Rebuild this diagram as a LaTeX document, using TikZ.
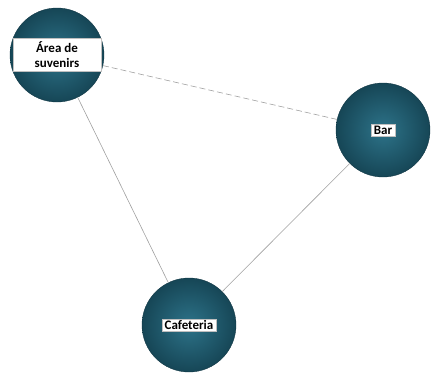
\documentclass[tikz,border=0pt]{standalone}
\usepackage{fontspec}
\setmainfont{Carlito}
\usetikzlibrary{positioning}

\definecolor{tealdark}{HTML}{164656}
\definecolor{teallight}{HTML}{2D7389}

\begin{document}
\begin{tikzpicture}[
        x = 1pt, y = -1pt, on grid,
        spot/.style = {circle, minimum size = 94pt, inner sep = 0pt,
            shading = radial, inner color = teallight, outer color = tealdark,
            draw = tealdark!80!black, thin},
        tag/.style = {fill = white, draw = gray!50, very thin, inner xsep = 3pt, inner ysep = 1.5pt,
            font = \fontsize{13}{15}\selectfont\bfseries, align = center, text = black},
        link/.style = {draw = gray!75, line width = 0.6pt}
    ]
      \useasboundingbox (0,0) rectangle (434,373);
      \node[spot, label = {[tag, minimum width = 88pt, inner ysep = 3.5pt]center:{Área de\\suvenirs}}] (area) at (57,55) {};
        \node[spot, label = {[tag]center:Bar}] (bar) [below right = 75pt and 326pt of area] {};
      \node[spot, label = {[tag]center:Cafeteria}] (cafe) [below right = 270pt and 132pt of area] {};

      \path 
        (area)  edge [link, dash pattern = on 6pt off 3pt] (bar)
        (area)  edge [link] (cafe)
        (bar)   edge [link] (cafe);
    \end{tikzpicture}
\end{document}
